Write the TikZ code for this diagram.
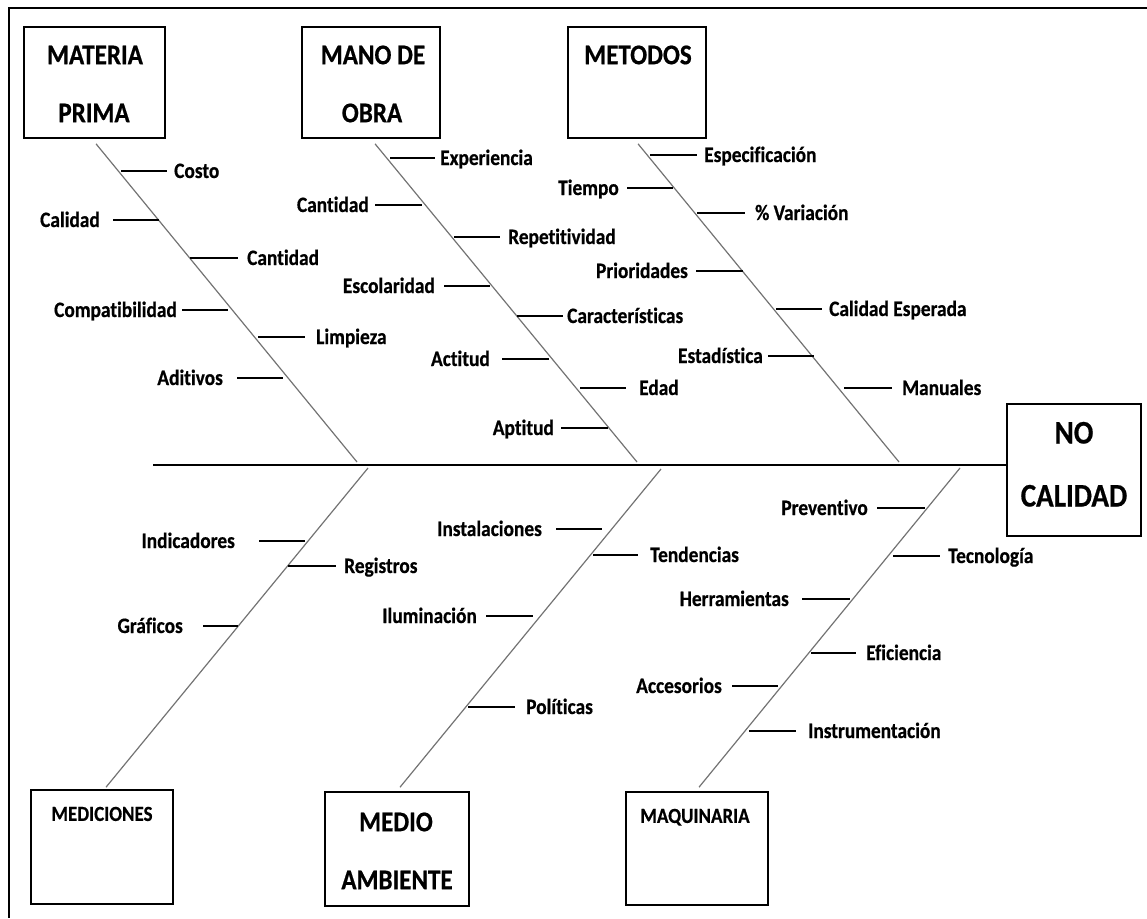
\documentclass[tikz,border=0pt]{standalone}
\usepackage{fontspec}
\newfontfamily\calfont[FakeStretch=0.88,FakeBold=0.6,Ligatures=NoCommon]{Carlito Bold}
\newcommand\RL[6]{\coordinate (#1b) at (#2,#5); \coordinate (#1e) at (#3,#5); \node[lbl,anchor=west] (#1) at (#4,#5) {#6}; \draw[sub] (#1b) -- (#1e);}
\newcommand\LL[6]{\node[lbl,anchor=east] (#1) at (#2,#5) {#6}; \coordinate (#1s) at (#3,#5); \coordinate (#1b) at (#4,#5); \draw[sub] (#1s) -- (#1b);}
\begin{document}
\begin{tikzpicture}[x=1pt,y=-1pt,
  box/.style={draw,line width=1.6pt,inner sep=0pt},
  bone/.style={draw=black!55,line width=1.2pt},
  sub/.style={draw=black,line width=1.4pt},
  spine/.style={draw=black,line width=2pt},
  frame/.style={draw=black,line width=2pt},
  lbl/.style={font=\calfont\fontsize{22}{22}\selectfont,inner sep=0pt,text height=14pt,text depth=0pt},
  ttl/.style={font=\calfont\fontsize{28.5}{28.5}\selectfont,inner sep=0pt,text height=18.4pt,text depth=0pt},
  sttl/.style={font=\calfont\fontsize{21.5}{21.5}\selectfont,inner sep=0pt,text height=13.8pt,text depth=0pt},
  nctl/.style={font=\calfont\fontsize{33}{33}\selectfont,inner sep=0pt,text height=21pt,text depth=0pt}]
\useasboundingbox (0,0) rectangle (1147,918);
% frame
\coordinate (f1) at (1147,8); \coordinate (f2) at (9,8); \coordinate (f3) at (9,918);
\draw[frame] (f1) -- (f2) -- (f3);
% boxes
\node[box,minimum width=141pt,minimum height=111pt] (mp) at (94.5,82.5) {};
\node[box,minimum width=138pt,minimum height=111pt] (mo) at (371,82.5) {};
\node[box,minimum width=138pt,minimum height=111pt] (me) at (637,82.5) {};
\node[box,minimum width=134pt,minimum height=132pt] (nc) at (1074,470) {};
\node[box,minimum width=142pt,minimum height=114pt] (md) at (102,847) {};
\node[box,minimum width=144pt,minimum height=114pt] (ma) at (397,849) {};
\node[box,minimum width=142pt,minimum height=113pt] (mq) at (697,848.5) {};
% box titles
\node[ttl] (mpt1) at (95,55) {MATERIA};
\node[ttl] (mpt2) at (94,113) {PRIMA};
\node[ttl] (mot1) at (373,55) {MANO DE};
\node[ttl] (mot2) at (372,113) {OBRA};
\node[ttl] (met1) at (638,55) {METODOS};
\node[nctl] (nct1) at (1074,433) {NO};
\node[nctl] (nct2) at (1074,496) {CALIDAD};
\node[sttl] (mdt1) at (102,814) {MEDICIONES};
\node[ttl] (mat1) at (396,822) {MEDIO};
\node[ttl] (mat2) at (397,880) {AMBIENTE};
\node[sttl] (mqt1) at (695,816) {MAQUINARIA};
% spine
\coordinate (sp) at (153,465);
\draw[spine] (sp) -- (sp -| nc.west);
% bones
\coordinate (mpE) at (357,462); \draw[bone] ([xshift=1.5pt,yshift=-5pt]mp.south) -- (mpE);
\coordinate (moE) at (637,462); \draw[bone] ([xshift=4pt,yshift=-5pt]mo.south) -- (moE);
\coordinate (meE) at (899,462); \draw[bone] ([xshift=1pt,yshift=-5pt]me.south) -- (meE);
\coordinate (mdE) at (368,468); \draw[bone] ([xshift=4pt,yshift=2pt]md.north) -- (mdE);
\coordinate (maE) at (661,469); \draw[bone] ([xshift=3pt,yshift=4pt]ma.north) -- (maE);
\coordinate (mqE) at (960,468); \draw[bone] ([xshift=2pt,yshift=4pt]mq.north) -- (mqE);
% Materia prima
\RL{a1}{121}{167}{174}{171}{Costo}
\LL{a2}{100}{113}{159}{220}{Calidad}
\RL{a3}{190}{238}{247}{258}{Cantidad}
\LL{a4}{177}{182}{228}{310}{Compatibilidad}
\RL{a5}{258}{305}{316}{337}{Limpieza}
\LL{a6}{223}{237}{283}{378}{Aditivos}
% Mano de obra
\RL{b1}{390}{435}{440}{158}{Experiencia}
\LL{b2}{369}{375}{422}{205}{Cantidad}
\RL{b3}{454}{500}{508}{237}{Repetitividad}
\LL{b4}{435}{444}{490}{286}{Escolaridad}
\RL{b5}{517}{563}{567}{316}{Características}
\LL{b6}{490}{502}{549}{359}{Actitud}
\RL{b7}{580}{626}{639}{388}{Edad}
\LL{b8}{554}{561}{608}{428}{Aptitud}
% Metodos
\RL{c1}{650}{697}{704}{155}{Especificación}
\LL{c2}{619}{627}{673}{188}{Tiempo}
\RL{c3}{697}{745}{755}{213}{\% Variación}
\LL{c4}{688}{696}{743}{271}{Prioridades}
\RL{c5}{776}{822}{829}{309}{Calidad Esperada}
\LL{c6}{763}{768}{814}{356}{Estadística}
\RL{c7}{844}{892}{902}{388}{Manuales}
% Mediciones
\LL{d1}{235}{259}{305}{541}{Indicadores}
\RL{d2}{288}{336}{344}{566}{Registros}
\LL{d3}{183}{203}{238}{626}{Gráficos}
% Medio ambiente
\LL{e1}{542}{556}{602}{529}{Instalaciones}
\RL{e2}{593}{638}{650}{555}{Tendencias}
\LL{e3}{477}{486}{533}{616}{Iluminación}
\RL{e4}{468}{515}{526}{707}{Políticas}
% Maquinaria
\LL{g1}{868}{877}{925}{508}{Preventivo}
\RL{g2}{893}{940}{948}{556}{Tecnología}
\LL{g3}{789}{802}{850}{599}{Herramientas}
\RL{g4}{811}{856}{866}{653}{Eficiencia}
\LL{g5}{722}{732}{778}{686}{Accesorios}
\RL{g6}{749}{796}{808}{731}{Instrumentación}
\end{tikzpicture}
\end{document}
